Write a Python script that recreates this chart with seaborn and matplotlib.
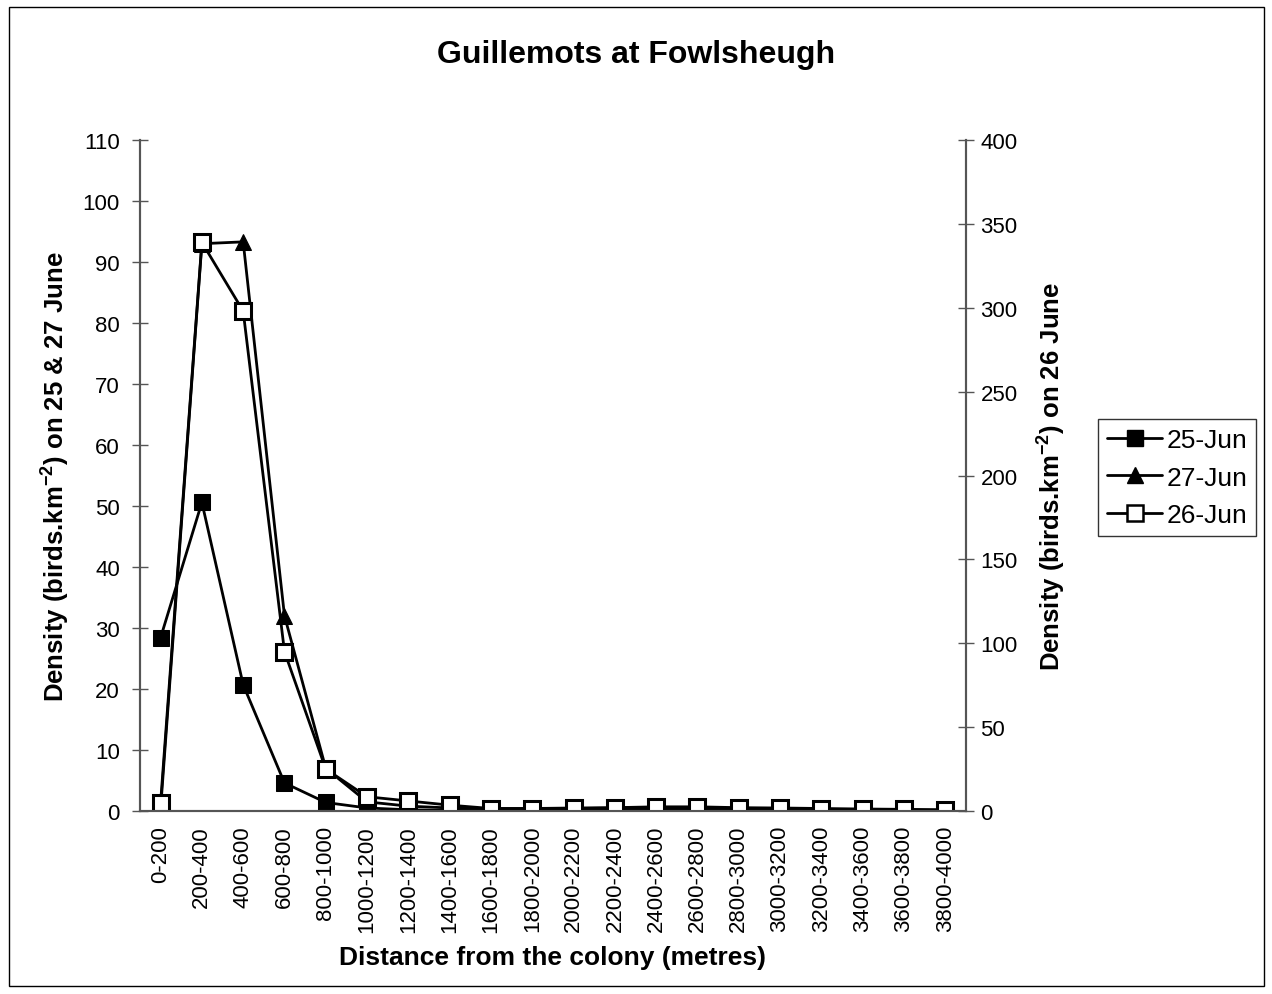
import numpy as np
import pandas as pd
import matplotlib
matplotlib.use("Agg")
import matplotlib.pyplot as plt
from matplotlib.patches import Rectangle
from matplotlib.lines import Line2D
import seaborn as sns

sns.set_theme(style="white")
plt.rcParams['font.family'] = ['Liberation Sans', 'DejaVu Sans']
plt.rcParams['text.color'] = 'black'
plt.rcParams['axes.labelcolor'] = 'black'
plt.rcParams['xtick.color'] = 'black'
plt.rcParams['ytick.color'] = 'black'
plt.rcParams['mathtext.fontset'] = 'custom'
plt.rcParams['mathtext.rm'] = 'Liberation Sans'
plt.rcParams['mathtext.bf'] = 'Liberation Sans:bold'

categories = ["0-200", "200-400", "400-600", "600-800", "800-1000", "1000-1200",
              "1200-1400", "1400-1600", "1600-1800", "1800-2000", "2000-2200",
              "2200-2400", "2400-2600", "2600-2800", "2800-3000", "3000-3200",
              "3200-3400", "3400-3600", "3600-3800", "3800-4000"]
jun25 = [28.4, 50.6, 20.7, 4.6, 1.4, 0.5, 0.2, 0.1, 0.1, 0.1,
         0.1, 0.2, 0.3, 0.3, 0.2, 0.1, 0.1, 0.1, 0.1, 0.1]
jun27 = [0.3, 93.0, 93.3, 32.0, 7.0, 1.5, 0.8, 0.5, 0.4, 0.4,
         0.4, 0.5, 0.6, 0.5, 0.4, 0.3, 0.3, 0.2, 0.1, 0.1]
jun26 = [4.8, 339.0, 298.0, 95.0, 25.0, 8.5, 6.0, 3.5, 1.5, 1.5,
         1.8, 2.0, 2.5, 2.5, 2.0, 1.8, 1.5, 1.2, 1.0, 0.8]

x = np.arange(len(categories))
df25 = pd.DataFrame({"x": x, "y": jun25})
df27 = pd.DataFrame({"x": x, "y": jun27})
df26 = pd.DataFrame({"x": x, "y": jun26})

fig = plt.figure(figsize=(12.72, 9.95), dpi=100)
ax = fig.add_axes([0.110, 0.1839, 0.6494, 0.6744])

LW = 2.0
sns.lineplot(data=df25, x="x", y="y", ax=ax,
             color="black", lw=LW, marker="s", markersize=11,
             markerfacecolor="black", markeredgecolor="black")
sns.lineplot(data=df27, x="x", y="y", ax=ax,
             color="black", lw=LW, marker="^", markersize=12,
             markerfacecolor="black", markeredgecolor="black")

ax2 = ax.twinx()
sns.lineplot(data=df26, x="x", y="y", ax=ax2,
             color="black", lw=LW, marker="s", markersize=11,
             markerfacecolor="white", markeredgecolor="black", markeredgewidth=2.2)

axis_col = "#555555"
ax.set_xlim(-0.5, len(categories) - 0.5)
ax.set_ylim(0, 110)
ax2.set_ylim(0, 400)
ax.set_yticks(np.arange(0, 111, 10))
ax2.set_yticks(np.arange(0, 401, 50))
ax.set_xticks(x)
ax.set_xticklabels(categories, rotation=90, fontsize=16)
ax.set_xticks(np.arange(-0.5, len(categories), 1), minor=True)
ax.tick_params(axis="x", which="major", length=0, pad=10)
ax.tick_params(axis="x", which="minor", length=9, direction="inout", color=axis_col, width=1)
ax.tick_params(axis="y", length=11, direction="inout", color=axis_col, width=1, labelsize=16, left=True, pad=9)
ax2.tick_params(axis="y", length=11, direction="inout", color=axis_col, width=1, labelsize=16, right=True, pad=5)

for a in (ax, ax2):
    a.spines["top"].set_visible(False)
    for s in ("left", "right", "bottom"):
        a.spines[s].set_color(axis_col)
        a.spines[s].set_linewidth(1.5)
    a.grid(False)
    a.set_xlabel("")

ax.set_xlabel("Distance from the colony (metres)", fontsize=19, fontweight="bold", labelpad=10)
ax.set_ylabel("Density (birds.km$^{\\mathbf{-2}}$) on 25 & 27 June", fontsize=18.5, fontweight="bold", labelpad=8)
ax2.set_ylabel("Density (birds.km$^{\\mathbf{-2}}$) on 26 June", fontsize=18.5, fontweight="bold", labelpad=12, rotation=90)
fig.suptitle("Guillemots at Fowlsheugh", fontsize=23, fontweight="bold", x=0.5, y=0.945, va="center")

handles = [
    Line2D([], [], color="black", lw=LW, marker="s", markersize=11, markerfacecolor="black"),
    Line2D([], [], color="black", lw=LW, marker="^", markersize=12, markerfacecolor="black"),
    Line2D([], [], color="black", lw=LW, marker="s", markersize=11, markerfacecolor="white", markeredgewidth=1.8),
]
leg = fig.legend(handles, ["25-Jun", "27-Jun", "26-Jun"], loc="center left",
                 bbox_to_anchor=(0.863, 0.519), fontsize=19, frameon=True, fancybox=False,
                 handlelength=2.1, handletextpad=0.15, borderpad=0.35, labelspacing=0.5,
                 borderaxespad=0)
leg.get_frame().set_edgecolor("black")
leg.get_frame().set_linewidth(1.0)

fig.patches.append(Rectangle((0.007, 0.008), 0.987, 0.984, transform=fig.transFigure,
                             fill=False, edgecolor="black", linewidth=1.0))

fig.savefig("out.png", dpi=100)
